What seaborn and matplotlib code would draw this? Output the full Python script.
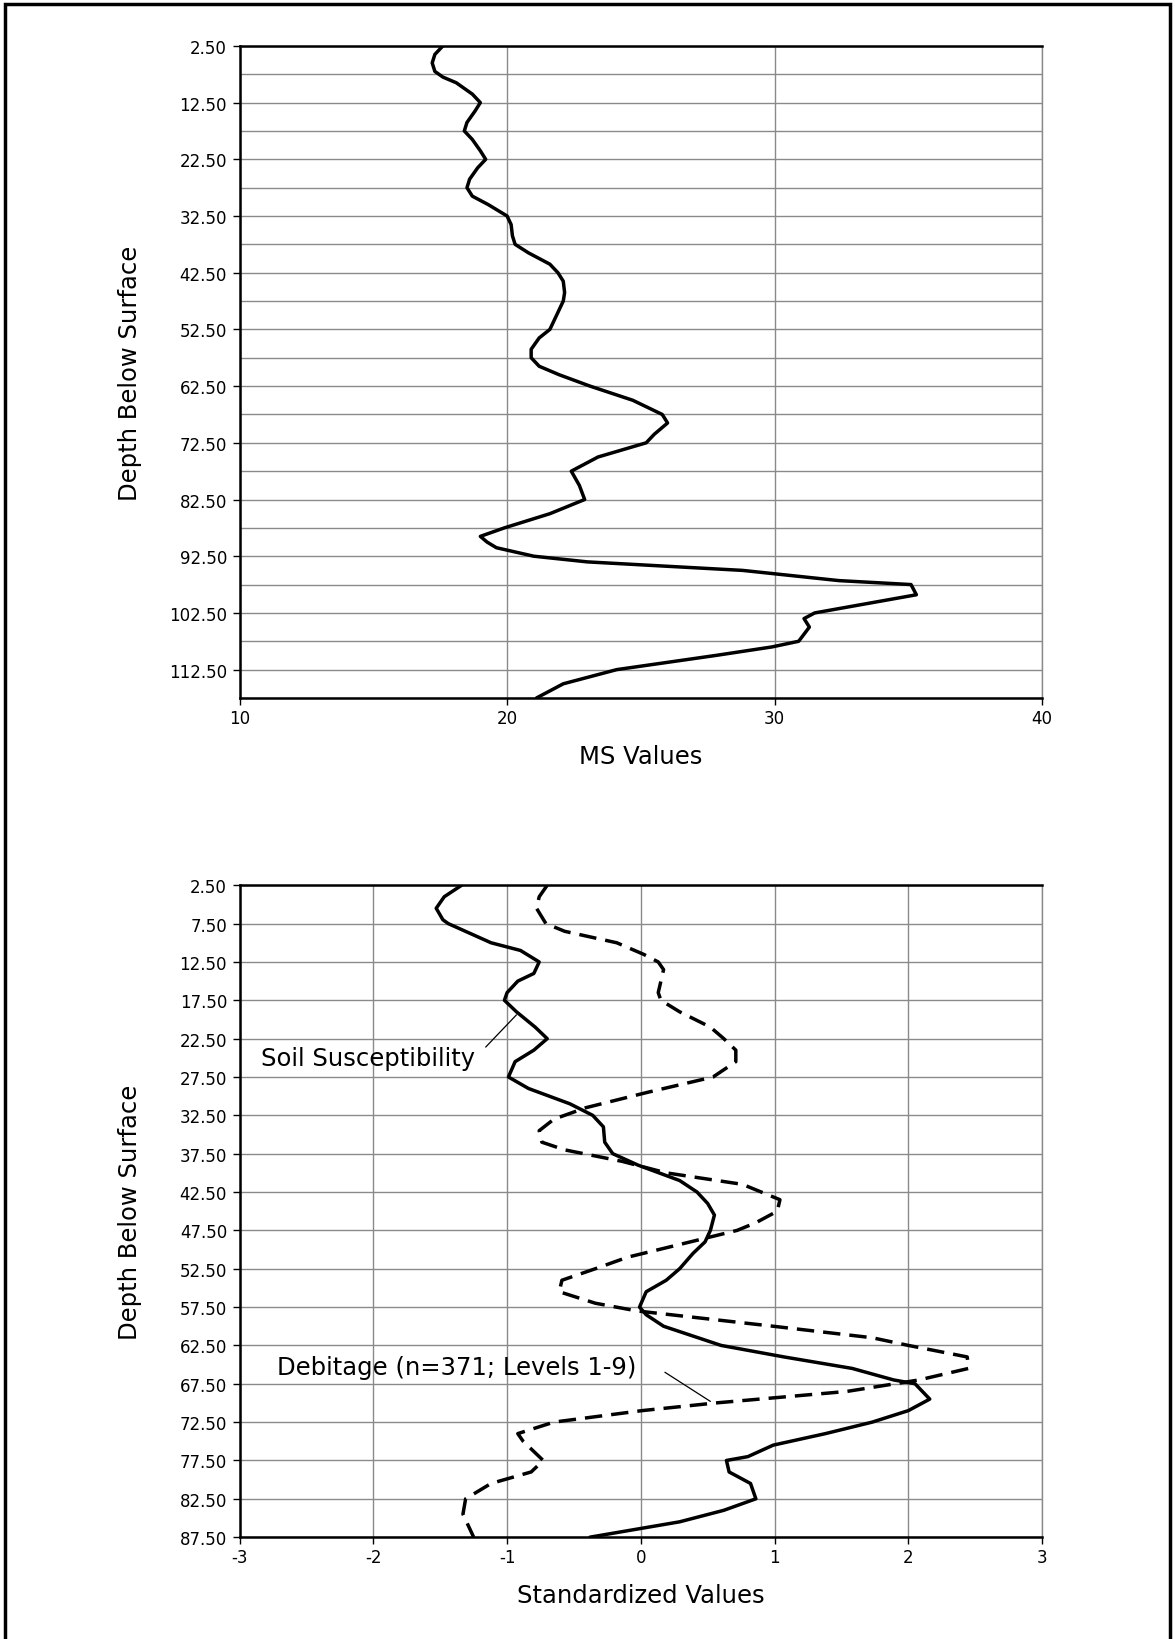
import numpy as np
import pandas as pd
import matplotlib
matplotlib.use("Agg")
import matplotlib.pyplot as plt
import seaborn as sns

# %%
# Data
# Top panel: raw magnetic susceptibility (MS) by depth
ms_depth = [2.5, 4, 5.5, 7, 8, 9, 11, 12.5, 14, 16, 17.5, 19, 21, 22.5, 24, 26, 27.5,
            29, 30.5, 32.5, 34, 36, 37.5, 39, 41, 42.5, 44, 46, 47.5, 50, 52.5, 54,
            56, 57.5, 59, 60.5, 62.5, 65, 67.5, 69, 71, 72.5, 75, 77.5, 80, 82.5, 85,
            87.5, 89, 90, 91, 92.5, 93.5, 95, 96.8, 97.5, 99.3, 102.5, 103.5, 105,
            107.5, 108.5, 110, 112.5, 115, 117.5]
ms_values = [17.6, 17.3, 17.2, 17.3, 17.6, 18.1, 18.7, 19.0, 18.8, 18.5, 18.4, 18.7,
             19.0, 19.2, 18.9, 18.6, 18.5, 18.7, 19.3, 20.0, 20.15, 20.2, 20.3, 20.8,
             21.6, 21.9, 22.1, 22.15, 22.1, 21.85, 21.6, 21.2, 20.9, 20.9, 21.2, 21.95,
             23.1, 24.7, 25.8, 26.0, 25.5, 25.2, 23.4, 22.4, 22.7, 22.9, 21.6, 19.9,
             19.0, 19.25, 19.6, 21.0, 23.0, 28.8, 32.4, 35.1, 35.3, 31.5, 31.1, 31.3,
             30.9, 29.9, 27.8, 24.1, 22.1, 21.1]

# Bottom panel: standardized values
soil_depth = [2.5, 4, 5.5, 7, 7.5, 10, 11, 12.5, 14, 15, 16.5, 17.5, 19, 21, 22.5, 24,
              25.5, 27.5, 29, 31, 32.5, 34, 36, 37.5, 39, 41, 42.5, 44, 45.5, 47.5, 49,
              50.5, 52.5, 54, 55.5, 57.5, 58.5, 60, 62.5, 64, 65.5, 67, 67.5, 69.5, 71,
              72.5, 74, 75.5, 77, 77.5, 79, 80.5, 82.5, 84, 85.5, 87.5]
soil_values = [-1.34, -1.47, -1.53, -1.48, -1.44, -1.12, -0.90, -0.76, -0.80, -0.92,
               -1.0, -1.02, -0.93, -0.79, -0.70, -0.80, -0.94, -0.99, -0.84, -0.53,
               -0.36, -0.28, -0.27, -0.21, -0.02, 0.29, 0.42, 0.50, 0.55, 0.52, 0.48,
               0.39, 0.29, 0.19, 0.04, -0.01, 0.04, 0.17, 0.60, 1.07, 1.58, 1.89, 2.05,
               2.16, 2.0, 1.73, 1.38, 0.99, 0.80, 0.64, 0.66, 0.82, 0.86, 0.62, 0.29,
               -0.38]

deb_depth = [2.5, 4, 5.5, 7.5, 8.5, 10, 11.5, 12.5, 13.5, 15, 16.5, 17.5, 19, 21, 22.5,
             24, 25.5, 27.5, 29.5, 31.5, 33, 34.5, 36, 37, 38.5, 40, 41.5, 42.5, 43.5,
             45, 46.5, 47.5, 49, 51, 52.5, 54, 55.5, 57, 58, 60, 61.5, 62.5, 64, 65.5,
             67, 68.5, 70, 71, 72.5, 74, 75, 77.5, 79, 80.5, 82.5, 84.5, 87.5]
deb_values = [-0.70, -0.76, -0.78, -0.71, -0.57, -0.18, 0.02, 0.13, 0.17, 0.15, 0.13,
              0.15, 0.29, 0.52, 0.62, 0.71, 0.71, 0.54, 0.05, -0.41, -0.65, -0.76,
              -0.74, -0.57, -0.14, 0.19, 0.76, 0.90, 1.04, 1.02, 0.86, 0.72, 0.37,
              -0.10, -0.34, -0.59, -0.61, -0.34, -0.03, 0.99, 1.73, 2.0, 2.44, 2.45,
              2.08, 1.54, 0.56, 0.01, -0.65, -0.92, -0.88, -0.73, -0.82, -1.12, -1.31,
              -1.33, -1.25]

top_yticks = np.arange(2.5, 113, 10)
top_yminor = np.arange(7.5, 118, 10)
bot_yticks = np.arange(2.5, 88, 5)

# %%
sns.set_theme(style="white")
plt.rcParams['font.family'] = ['DejaVu Sans']
plt.rcParams['axes.unicode_minus'] = False
plt.rcParams['text.color'] = 'black'
plt.rcParams['axes.labelcolor'] = 'black'
plt.rcParams['xtick.color'] = 'black'
plt.rcParams['ytick.color'] = 'black'

fig = plt.figure(figsize=(11.75, 16.4), dpi=100)
ax1 = fig.add_axes([0.2039, 0.5738, 0.683, 0.3976])
ax2 = fig.add_axes([0.2039, 0.0621, 0.683, 0.3975])

grid_kw = dict(color='#8a8a8a', lw=1.0)
line_kw = dict(color='black', lw=2.5, solid_joinstyle='round', dash_joinstyle='round')

# --- top panel
sns.lineplot(x=ms_values, y=ms_depth, orient='y', sort=False, estimator=None,
             ax=ax1, **line_kw)
ax1.set_xlim(10, 40)
ax1.set_ylim(117.5, 2.5)
ax1.set_xticks([10, 20, 30, 40])
ax1.set_yticks(top_yticks)
ax1.set_yticklabels([f"{v:.2f}" for v in top_yticks])
ax1.set_yticks(top_yminor, minor=True)
ax1.grid(True, which='both', axis='y', **grid_kw)
ax1.grid(True, which='major', axis='x', **grid_kw)
ax1.set_xlabel('MS Values', fontsize=17.5, labelpad=12)
ax1.set_ylabel('Depth Below Surface', fontsize=17.5)

# --- bottom panel
sns.lineplot(x=soil_values, y=soil_depth, orient='y', sort=False, estimator=None,
             ax=ax2, **line_kw)
sns.lineplot(x=deb_values, y=deb_depth, orient='y', sort=False, estimator=None,
             ax=ax2, **line_kw)
ax2.lines[1].set_dashes([5, 2.6])
ax2.set_xlim(-3, 3)
ax2.set_ylim(87.5, 2.5)
ax2.set_xticks(range(-3, 4))
ax2.set_yticks(bot_yticks)
ax2.set_yticklabels([f"{v:.2f}" for v in bot_yticks])
ax2.grid(True, which='major', axis='both', **grid_kw)
ax2.set_xlabel('Standardized Values', fontsize=17.5, labelpad=12)
ax2.set_ylabel('Depth Below Surface', fontsize=17.5)

# labels with leader lines
ax2.text(-2.84, 25.0, 'Soil Susceptibility', fontsize=17.5, va='center', ha='left')
ax2.plot([-1.16, -0.93], [23.6, 19.4], color='black', lw=0.9)
ax2.text(-2.72, 65.3, 'Debitage (n=371; Levels 1-9)', fontsize=17.5, va='center', ha='left')
ax2.plot([0.18, 0.52], [66.0, 69.8], color='black', lw=0.9)

for ax in (ax1, ax2):
    ax.set_axisbelow(True)
    ax.yaxis.set_label_coords(-0.121, 0.5)
    ax.tick_params(axis='both', which='major', direction='out', length=5, width=1,
                   labelsize=12, color='black', left=True, bottom=True)
    ax.tick_params(axis='x', pad=3)
    ax.tick_params(axis='y', pad=4)
    ax.tick_params(which='minor', length=0)
    for side in ('top', 'left', 'bottom'):
        ax.spines[side].set_color('black')
        ax.spines[side].set_linewidth(1.8)
    ax.spines['right'].set_color('#8a8a8a')
    ax.spines['right'].set_linewidth(1.0)

# outer frame
fig.add_artist(plt.Rectangle((0.004, -0.01), 0.992, 1.007, transform=fig.transFigure,
                             fill=False, lw=2.5, ec='black'))

fig.savefig('out.png', dpi=100, facecolor='white')
